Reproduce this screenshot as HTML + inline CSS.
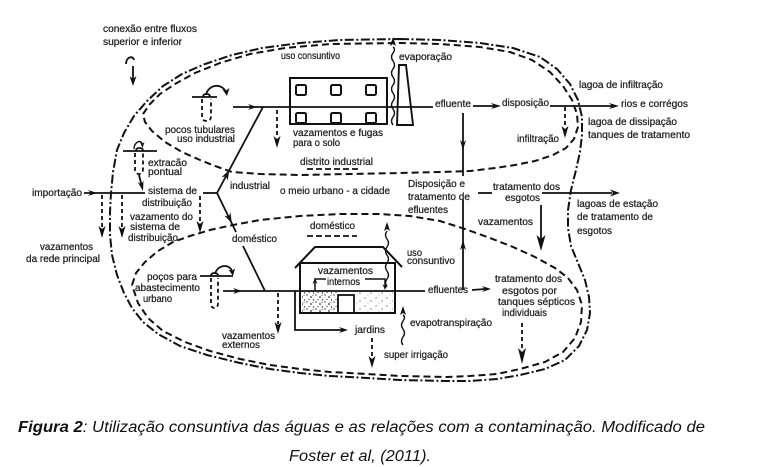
<!DOCTYPE html>
<html>
<head>
<meta charset="utf-8">
<style>
html,body{margin:0;padding:0;background:#fff;}
svg{display:block;}
</style>
</head>
<body>
<svg width="779" height="467" viewBox="0 0 779 467" xmlns="http://www.w3.org/2000/svg">
<defs>
<pattern id="st" width="9" height="7" patternUnits="userSpaceOnUse">
<circle cx="1" cy="1" r=".7" fill="#333"/><circle cx="5" cy="3" r=".9" fill="#333"/><circle cx="3" cy="5.5" r=".6" fill="#333"/><circle cx="7.5" cy="6" r=".7" fill="#333"/><circle cx="7" cy="1.5" r=".5" fill="#333"/>
</pattern>
<pattern id="st2" width="11" height="8" patternUnits="userSpaceOnUse">
<circle cx="2" cy="2" r=".6" fill="#444"/><circle cx="8" cy="5" r=".6" fill="#444"/><circle cx="5" cy="7" r=".4" fill="#444"/>
</pattern>
</defs>
<rect width="779" height="467" fill="#fff"/>

<!-- Outer boundary dash-dot -->
<polyline fill="none" stroke="#111" stroke-width="2" stroke-dasharray="9 2.5 2 2.5" points="400,39 440,40 480,43 513,48 540,57 557,69 570,84 578,100 582,117 582,135 580,152 576,170 571,190 568,210 568,228 571,246 578,263 585,280 589,297 590,313 587,330 579,346 565,360 545,369 520,375 497,379 470,381 447,381 400,380 367,378 330,376 300,373 270,369 240,363 207,355 180,346 158,334 143,322 132,308 124,293 117,275 112,255 110,235 110,212 111,193 113,172 117,150 124,133 134,116 147,101 163,86 182,74 205,64 232,55 262,48 300,43 340,40 400,39"/>

<!-- Industrial dashed loop -->
<polyline fill="none" stroke="#111" stroke-width="2" stroke-dasharray="7 4" points="143,114 150,104 160,94 175,84 195,73 220,63 250,54 285,48 330,44 400,43 440,44 480,47 510,52 532,60 550,72 563,86 572,100 577,114 578,127 574,139 566,148 553,155 535,161 515,165 495,168 470,171 440,172 400,173 350,174 300,175 260,174 232,172 215,166 200,160 182,152 165,142 152,131 145,122 143,114"/>

<!-- Domestic dashed loop -->
<polyline fill="none" stroke="#111" stroke-width="2" stroke-dasharray="7 4" points="132,285 136,273 145,262 158,251 173,242 190,236 210,230 233,225 260,220 300,216 340,214 380,214 410,216 440,221 465,229 490,238 513,247 535,257 555,268 568,278 577,290 582,305 581,322 575,338 563,352 545,362 520,369 497,374 470,376 447,377 400,376 367,374 330,372 300,369 270,365 240,359 210,351 185,342 163,331 148,318 138,303 132,285"/>

<g fill="none" stroke="#111" stroke-width="1.8">
<path d="M126 64 C126 57, 133 55, 134 60"/>
<line x1="133" y1="66" x2="133" y2="80"/>

<line x1="233" y1="107" x2="433" y2="107"/>
<line x1="473" y1="106" x2="495" y2="106"/>
<line x1="550" y1="106" x2="613" y2="106"/>
<line x1="217" y1="193" x2="263" y2="107"/>
<line x1="217" y1="193" x2="236" y2="232"/>
<line x1="243" y1="246" x2="265" y2="291"/>
<line x1="203" y1="193" x2="217" y2="193"/>
<line x1="84" y1="193" x2="145" y2="193"/>
<line x1="139" y1="175" x2="141.5" y2="185"/>

<rect x="290" y="78" width="97" height="46" stroke-width="2"/>
<rect x="296" y="85" width="10" height="10" rx="1.5" stroke-width="2"/>
<rect x="331" y="85" width="10" height="10" rx="1.5" stroke-width="2"/>
<rect x="366" y="85" width="10" height="10" rx="1.5" stroke-width="2"/>
<rect x="296" y="113" width="10" height="10" rx="1.5" stroke-width="2"/>
<rect x="331" y="113" width="10" height="10" rx="1.5" stroke-width="2"/>
<rect x="366" y="113" width="10" height="10" rx="1.5" stroke-width="2"/>
<polygon points="399,65 406,65 413,125 397,125" stroke-width="1.9"/>
<path d="M393 125 q -3 -4 0 -8 t 0 -8 t 0 -8 t 0 -8 t 0 -8 t 0 -8 t 0 -8 t 0 -8 t 0 -8 t 0 -6" stroke-width="1.4"/>

<line x1="463" y1="113" x2="463" y2="176"/>
<line x1="463" y1="290" x2="463" y2="200"/>
<line x1="478" y1="193" x2="492" y2="193"/>
<line x1="542" y1="193" x2="612" y2="193"/>
<line x1="541" y1="205" x2="541" y2="240"/>

<line x1="192" y1="97" x2="217" y2="97"/>
<path d="M203 97 Q203 94 206.5 94 Q210 94 210 97"/>
<path d="M206 95 C208 85, 221 82, 226 92"/>
<line x1="123" y1="151" x2="157" y2="151"/>
<path d="M136 151 Q136 148 139.5 148 Q143 148 143 151"/>
<path d="M134 149 C134 142, 141 139, 142 144" stroke-width="1.4"/>
<line x1="200" y1="276" x2="233" y2="276"/>
<path d="M211 276 Q211 273 214.5 273 Q218 273 218 276"/>
<path d="M215 274 C217 265, 229 263, 232 271"/>

<line x1="223" y1="291" x2="425" y2="291"/>
<line x1="472" y1="290" x2="485" y2="289"/>

<rect x="300" y="263" width="95" height="50" stroke-width="2"/>
<polyline points="295,268 315,247 383,247 402,267" stroke-width="2"/>
<rect x="338" y="295" width="16" height="18" stroke-width="1.8"/>
<path d="M315 290 V279 H326" stroke-width="1.5"/>
<path d="M365 279 H385 V286" stroke-width="1.5"/>
<path d="M387 287 q -3 -4 0 -8 t 0 -8 t 0 -8 t 0 -8 t 0 -8 t 0 -8 t 0 -8" stroke-width="1.4"/>
<path d="M295 291 V330 H342"/>
<path d="M403 345 q -3 -4 0 -8 t 0 -8 t 0 -8 t 0 -6" stroke-width="1.4"/>
</g>

<rect x="302" y="292" width="35" height="20" fill="url(#st)"/>
<rect x="356" y="292" width="37" height="20" fill="url(#st2)"/>

<g fill="none" stroke="#111" stroke-width="1.8" stroke-dasharray="4 3">
<path d="M202 99 V116 Q202 121 206.5 121 Q211 121 211 116 V99"/>
<path d="M135 153 V169 Q135 174 139 174 Q143 174 143 169 V153"/>
<path d="M211 278 V303 Q211 308 214.5 308 Q218 308 218 303 V278"/>
<line x1="277" y1="110" x2="277" y2="138"/>
<line x1="565" y1="107" x2="565" y2="128"/>
<line x1="102" y1="195" x2="102" y2="228"/>
<line x1="122" y1="195" x2="122" y2="228"/>
<line x1="200" y1="196" x2="200" y2="223"/>
<line x1="278" y1="293" x2="278" y2="324"/>
<line x1="372" y1="338" x2="372" y2="358"/>
<line x1="522" y1="323" x2="522" y2="350"/>
<line x1="307" y1="169" x2="360" y2="169" stroke-dasharray="6 3"/>
<line x1="307" y1="236" x2="357" y2="236" stroke-dasharray="6 3"/>
</g>

<g fill="#111" stroke="none">
<polygon points="133,86 129.5,76 133,79 136.5,76"/>
<polygon points="277,148 273.5,136 277,139 280.5,136"/>
<polygon points="463,150 460,140 463,143 466,140"/>
<polygon points="565,138 561.5,126 565,129 568.5,126"/>
<polygon points="102,238 98.5,226 102,229 105.5,226"/>
<polygon points="122,238 118.5,226 122,229 125.5,226"/>
<polygon points="200,233 196.5,221 200,224 203.5,221"/>
<polygon points="541,251 536.5,235 541,239 545.5,235"/>
<polygon points="278,334 274.5,322 278,325 281.5,322"/>
<polygon points="372,368 368.5,356 372,359 375.5,356"/>
<polygon points="522,364 518,348 522,352 526,348"/>
<polygon points="385,290 382.5,284 385,286 387.5,284"/>
<polygon points="393,37 390,46 393,44 396,46"/>
<polygon points="387,222 384,231 387,229 390,231"/>
<polygon points="463,240 460,250 463,247 466,250"/>
<polygon points="403,306 400,315 403,313 406,315"/>
<polygon points="315,278 312.5,284 315,282 317.5,284"/>
<polygon points="257,107 248,104 251,107 248,110"/>
<polygon points="501,106 491,103 494,106 491,109"/>
<polygon points="619,106 609,103 612,106 609,109"/>
<polygon points="97,193 88,190 91,193 88,196"/>
<polygon points="242,291 233,288 236,291 233,294"/>
<polygon points="620,193 610,189.5 613,193 610,196.5"/>
<polygon points="491,289 482,286 485,289 482,292"/>
<polygon points="348,330 339,327 342,330 339,333"/>
<polygon points="229.3,170 227.7,180.5 226,176.2 221.5,177.2"/>
<polygon points="231.8,223 230.5,212.4 228.7,216.7 224.3,215.6"/>
<polygon points="143,191 143.5,180.6 141.3,184.2 137.7,182"/>
<polygon points="227,96 229.5,88 226,90.5 222.5,89.5"/>
<polygon points="233,276 235,268.5 231.8,271 228.5,269.5"/>
<polygon points="142.5,148 144.5,142 142.5,143.5 140,142"/>
</g>

<g font-family="'Liberation Sans', sans-serif" font-size="10" fill="#222" stroke="#222" stroke-width="0.25">
<text x="103" y="32" textLength="94" lengthAdjust="spacingAndGlyphs">conexão entre fluxos</text>
<text x="103" y="45" textLength="79" lengthAdjust="spacingAndGlyphs">superior e inferior</text>
<text x="281" y="59" textLength="59" lengthAdjust="spacingAndGlyphs">uso consuntivo</text>
<text x="399" y="60" textLength="53" lengthAdjust="spacingAndGlyphs">evaporação</text>
<text x="579" y="88" textLength="84" lengthAdjust="spacingAndGlyphs">lagoa de infiltração</text>
<text x="435" y="107" textLength="36" lengthAdjust="spacingAndGlyphs">efluente</text>
<text x="502" y="106" textLength="47" lengthAdjust="spacingAndGlyphs">disposição</text>
<text x="621" y="107" textLength="67" lengthAdjust="spacingAndGlyphs">rios e corrégos</text>
<text x="588" y="125" textLength="89" lengthAdjust="spacingAndGlyphs">lagoa de dissipação</text>
<text x="588" y="138" textLength="102" lengthAdjust="spacingAndGlyphs">tanques de tratamento</text>
<text x="517" y="142" textLength="42" lengthAdjust="spacingAndGlyphs">infiltração</text>
<text x="165" y="133" textLength="70" lengthAdjust="spacingAndGlyphs">pocos tubulares</text>
<text x="177" y="142" textLength="58" lengthAdjust="spacingAndGlyphs">uso industrial</text>
<text x="293" y="136" textLength="90" lengthAdjust="spacingAndGlyphs">vazamentos e fugas</text>
<text x="293" y="146" textLength="47" lengthAdjust="spacingAndGlyphs">para o solo</text>
<text x="300" y="165" textLength="73" lengthAdjust="spacingAndGlyphs">distrito industrial</text>
<text x="148" y="166" textLength="39" lengthAdjust="spacingAndGlyphs">extracão</text>
<text x="148" y="175" textLength="34" lengthAdjust="spacingAndGlyphs">pontual</text>
<text x="32" y="196" textLength="50" lengthAdjust="spacingAndGlyphs">importação</text>
<text x="148" y="194" textLength="49" lengthAdjust="spacingAndGlyphs">sistema de</text>
<text x="142" y="206" textLength="50" lengthAdjust="spacingAndGlyphs">distribuição</text>
<text x="230" y="189" textLength="40" lengthAdjust="spacingAndGlyphs">industrial</text>
<text x="280" y="194" textLength="110" lengthAdjust="spacingAndGlyphs">o meio urbano - a cidade</text>
<text x="408" y="187" textLength="57" lengthAdjust="spacingAndGlyphs">Disposição e</text>
<text x="408" y="200" textLength="62" lengthAdjust="spacingAndGlyphs">tratamento de</text>
<text x="408" y="213" textLength="40" lengthAdjust="spacingAndGlyphs">efluentes</text>
<text x="493" y="190" textLength="67" lengthAdjust="spacingAndGlyphs">tratamento dos</text>
<text x="505" y="201" textLength="35" lengthAdjust="spacingAndGlyphs">esgotos</text>
<text x="577" y="207" textLength="81" lengthAdjust="spacingAndGlyphs">lagoas de estação</text>
<text x="577" y="220" textLength="76" lengthAdjust="spacingAndGlyphs">de tratamento de</text>
<text x="577" y="234" textLength="35" lengthAdjust="spacingAndGlyphs">esgotos</text>
<text x="478" y="225" textLength="55" lengthAdjust="spacingAndGlyphs">vazamentos</text>
<text x="130" y="220" textLength="63" lengthAdjust="spacingAndGlyphs">vazamento do</text>
<text x="130" y="230" textLength="50" lengthAdjust="spacingAndGlyphs">sistema de</text>
<text x="128" y="241" textLength="50" lengthAdjust="spacingAndGlyphs">distribuição</text>
<text x="310" y="229" textLength="45" lengthAdjust="spacingAndGlyphs">doméstico</text>
<text x="232" y="242" textLength="45" lengthAdjust="spacingAndGlyphs">doméstico</text>
<text x="40" y="250" textLength="53" lengthAdjust="spacingAndGlyphs">vazamentos</text>
<text x="26" y="262" textLength="74" lengthAdjust="spacingAndGlyphs">da rede principal</text>
<text x="407" y="256" textLength="15" lengthAdjust="spacingAndGlyphs">uso</text>
<text x="407" y="264" textLength="48" lengthAdjust="spacingAndGlyphs">consuntivo</text>
<text x="318" y="274" textLength="55" lengthAdjust="spacingAndGlyphs">vazamentos</text>
<text x="327" y="285" textLength="33" lengthAdjust="spacingAndGlyphs">internos</text>
<text x="147" y="280" textLength="50" lengthAdjust="spacingAndGlyphs">poços para</text>
<text x="135" y="291" textLength="65" lengthAdjust="spacingAndGlyphs">abastecimento</text>
<text x="143" y="302" textLength="29" lengthAdjust="spacingAndGlyphs">urbano</text>
<text x="428" y="293" textLength="40" lengthAdjust="spacingAndGlyphs">efluentes</text>
<text x="495" y="282" textLength="67" lengthAdjust="spacingAndGlyphs">tratamento dos</text>
<text x="502" y="294" textLength="55" lengthAdjust="spacingAndGlyphs">esgotos por</text>
<text x="498" y="305" textLength="77" lengthAdjust="spacingAndGlyphs">tanques sépticos</text>
<text x="502" y="316" textLength="45" lengthAdjust="spacingAndGlyphs">individuais</text>
<text x="410" y="326" textLength="82" lengthAdjust="spacingAndGlyphs">evapotranspiração</text>
<text x="355" y="333" textLength="30" lengthAdjust="spacingAndGlyphs">jardins</text>
<text x="222" y="339" textLength="53" lengthAdjust="spacingAndGlyphs">vazamentos</text>
<text x="222" y="348" textLength="38" lengthAdjust="spacingAndGlyphs">externos</text>
<text x="384" y="358" textLength="64" lengthAdjust="spacingAndGlyphs">super irrigação</text>
</g>

<g font-family="'Liberation Sans Narrow', 'Liberation Sans', sans-serif" font-size="15.5" fill="#111" font-style="italic">
<text x="18" y="432" textLength="687" lengthAdjust="spacingAndGlyphs"><tspan font-weight="bold">Figura 2</tspan>: Utilização consuntiva das águas e as relações com a contaminação. Modificado de</text>
<text x="289" y="461" textLength="142" lengthAdjust="spacingAndGlyphs">Foster et al, (2011).</text>
</g>
</svg>
</body>
</html>
